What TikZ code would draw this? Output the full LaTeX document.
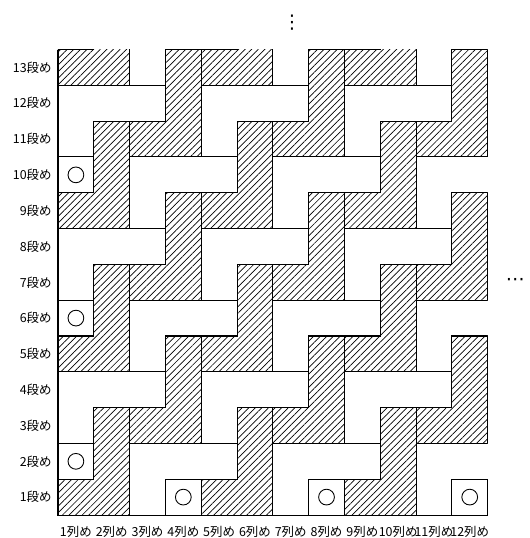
\documentclass[tikz,border=0pt]{standalone}
\usepackage{fontspec}
\newfontfamily\jpfont{Noto Sans CJK JP}
\newfontfamily\symfont{DejaVu Sans}
\usetikzlibrary{patterns.meta}
\begin{document}
\begin{tikzpicture}[x=1cm,y=1cm,
  hat/.style={pattern={Lines[angle=45,distance=3.7pt,line width=0.55pt]}},
  tileedge/.style={line width=0.8pt, line join=miter},
  rowlab/.style={anchor=east, font=\jpfont\fontsize{9.9}{11}\selectfont, inner sep=0pt},
  collab/.style={anchor=center, font=\jpfont\fontsize{9.9}{11}\selectfont, inner sep=0pt},
  dotlab/.style={inner sep=0pt, font=\symfont\fontsize{15}{15}\selectfont},
  ring/.style={draw, circle, line width=0.7pt, minimum size=0.44cm, inner sep=0pt}]
\useasboundingbox (-1.620,-0.642) rectangle (13.156,14.385);
% hatched fills
\begin{scope}
  \clip (0,0) rectangle (12,13);
  \foreach \a/\b in {1/1,5/1,9/1,1/5,5/5,9/5,1/9,5/9,9/9,1/13,5/13,9/13,3/3,7/3,11/3,3/7,7/7,11/7,3/11,7/11,11/11}{
    \path[hat] (\a-1,\b-1) -- ++(2,0) -- ++(0,3) -- ++(-1,0) -- ++(0,-2) -- ++(-1,0) -- cycle;
  }
  % outlines of hatched tiles (incl. partial ones below)
  \foreach \a/\b in {1/1,5/1,9/1,1/5,5/5,9/5,1/9,5/9,9/9,1/13,5/13,9/13,3/3,7/3,11/3,3/7,7/7,11/7,3/11,7/11,11/11,3/-1,7/-1,11/-1}{
    \draw[tileedge] (\a-1,\b-1) -- ++(2,0) -- ++(0,3) -- ++(-1,0) -- ++(0,-2) -- ++(-1,0) -- cycle;
  }
  % outlines of white tiles
  \foreach \a/\b in {1/3,5/3,9/3,1/7,5/7,9/7,1/11,5/11,9/11,3/1,7/1,11/1,-1/1,3/5,7/5,11/5,-1/5,3/9,7/9,11/9,-1/9,3/13,7/13,11/13}{
    \draw[tileedge] (\a-1,\b-1) -- ++(1,0) -- ++(0,1) -- ++(2,0) -- ++(0,1) -- ++(-3,0) -- cycle;
  }
\end{scope}
% outer border (left, bottom, right where closed)
\draw[tileedge] (0,13) -- (0,0) -- (12,0) -- (12,1);
\draw[tileedge] (12,2) -- (12,5);
\draw[tileedge] (12,6) -- (12,9);
\draw[tileedge] (12,10) -- (12,13);
% circles
\foreach \c/\r in {1/2,1/6,1/10,4/1,8/1,12/1}{
  \node[ring] (o\c-\r) at (\c-0.5,\r-0.5) {};
}
% labels
\foreach \r in {1,...,13}{
  \node[rowlab] (r\r) at (-0.17,\r-0.5) {\r 段め};
}
\foreach \c in {1,...,12}{
  \node[collab] (c\c) at (\c-0.5,-0.475) {\c 列め};
}
\node[dotlab] (vd) at (6.54,13.76) {⋮};
\node[dotlab] (hd) at (12.77,6.5) {⋯};
\end{tikzpicture}
\end{document}
